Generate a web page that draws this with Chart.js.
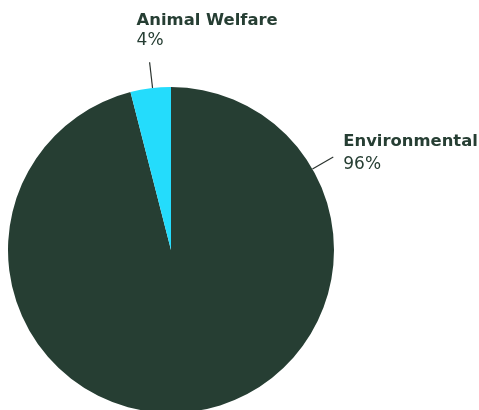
<!DOCTYPE html>
<html>
<head>
<meta charset="utf-8">
<script src="https://cdn.jsdelivr.net/npm/chart.js@4.4.1/dist/chart.umd.min.js"></script>
<style>
  html, body { margin: 0; padding: 0; background: #fff; overflow: hidden; }
  #wrap { width: 479px; height: 420px; }
</style>
</head>
<body>
<div id="wrap"><canvas id="pie" width="479" height="420"></canvas></div>
<script>
// Donation split by cause
var categories = ['Environmental', 'Animal Welfare'];
var shares = [96, 4];
var colors = ['#263e33', '#24dcfc'];

var ink = '#263e33';
var fontFamily = '"DejaVu Sans", sans-serif';

// label placement: angle (deg, clockwise from top) where the leader leaves the rim
var labelSpots = [
  { angle: 60.2, len: 24, dx: 10, dy: -11, gap: 23 },
  { angle: -6.5, len: 26, dx: -13, dy: -37, gap: 20 }
];

var pieLabels = {
  id: 'pieLabels',
  afterDatasetsDraw: function (chart) {
    var ctx = chart.ctx;
    var arc = chart.getDatasetMeta(0).data[0];
    var cx = arc.x, cy = arc.y, r = arc.outerRadius;
    ctx.save();
    categories.forEach(function (name, i) {
      var s = labelSpots[i];
      var a = s.angle * Math.PI / 180;
      var x0 = cx + r * Math.sin(a), y0 = cy - r * Math.cos(a);
      var x1 = cx + (r + s.len) * Math.sin(a), y1 = cy - (r + s.len) * Math.cos(a);
      ctx.strokeStyle = '#2b332f';
      ctx.lineWidth = 1.2;
      ctx.beginPath(); ctx.moveTo(x0, y0); ctx.lineTo(x1, y1); ctx.stroke();
      var tx = x1 + s.dx, ty = y1 + s.dy;
      ctx.fillStyle = ink;
      ctx.textAlign = 'left';
      ctx.textBaseline = 'alphabetic';
      ctx.font = 'bold 16.4px ' + fontFamily;
      ctx.fillText(name, tx, ty);
      ctx.font = '17px ' + fontFamily;
      ctx.fillText(shares[i] + '%', tx, ty + s.gap);
    });
    ctx.restore();
  }
};

new Chart(document.getElementById('pie'), {
  type: 'pie',
  data: { labels: categories, datasets: [{ data: shares, backgroundColor: colors, borderWidth: 0 }] },
  options: {
    responsive: false, animation: false,
    layout: { padding: { left: 8, top: 87, right: 145, bottom: 7 } },
    plugins: { legend: { display: false }, tooltip: { enabled: false } }
  },
  plugins: [pieLabels]
});
</script>
</body>
</html>
